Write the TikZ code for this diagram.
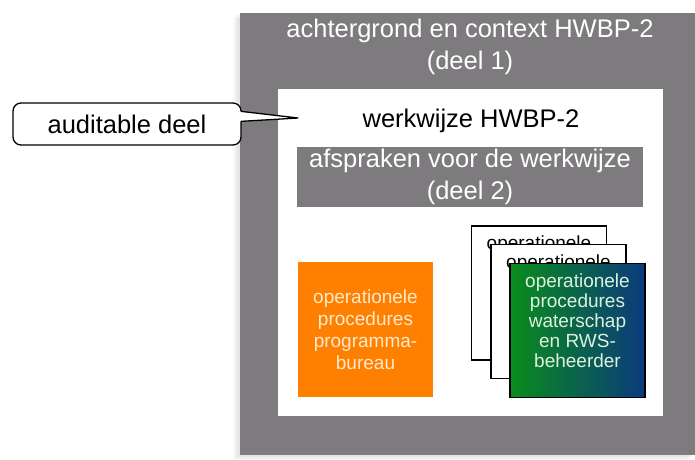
\documentclass[tikz,border=0pt]{standalone}
\usepackage{fontspec}
\setmainfont{Liberation Sans}
\usepackage{tikz}
\usetikzlibrary{positioning, shadows, calc}
\definecolor{hwbpcolor0}{HTML}{7E7B7E}
\definecolor{hwbpcolor1}{HTML}{FF8000}
\definecolor{hwbpcolor2}{HTML}{FFE9CC}
\definecolor{hwbpcolor3}{HTML}{0A8C1C}
\definecolor{hwbpcolor4}{HTML}{0B3A7C}
\definecolor{hwbpcolor5}{HTML}{DDF2DD}
\tikzset{
  text_large/.style={font=\fontsize{25.5}{32}\selectfont, align=center},
  text_small/.style={font=\fontsize{19}{20}\selectfont, align=center},
  soft_shadow/.style={
    drop shadow={shadow xshift=-7pt, shadow yshift=-5pt, opacity=0.05},
    drop shadow={shadow xshift=-5pt, shadow yshift=-3.5pt, opacity=0.07},
    drop shadow={shadow xshift=-3pt, shadow yshift=-2pt, opacity=0.1}},
  box_outer/.style={fill=hwbpcolor0, anchor=north west, inner sep=0pt, soft_shadow},
  box_inner/.style={fill=white, anchor=north west, inner sep=0pt, drop shadow={shadow xshift=-2pt, shadow yshift=-2pt, opacity=0.12}},
  bar_gray/.style={fill=hwbpcolor0, text=white, text_large, minimum width=346pt, minimum height=60pt, inner sep=0pt},
  proc_orange/.style={fill=hwbpcolor1, text=hwbpcolor2, font=\fontsize{19}{22}\selectfont, align=center, minimum width=135pt, minimum height=135pt, inner sep=0pt},
  proc_sheet/.style={draw=black, line width=1.2pt, fill=white, minimum width=135pt, minimum height=134pt, inner sep=0pt},
  proc_front/.style={proc_sheet, left color=hwbpcolor3, right color=hwbpcolor4},
  sheet_text/.style={text_small, yshift=10pt},
  callout_box/.style={draw=black, fill=white, line width=1.3pt, rounded corners=8pt, text_large, minimum width=228pt, minimum height=42pt, inner sep=0pt},
  callout_line/.style={draw=black, line width=1.3pt, line join=round}
}

\begin{document}
\begin{tikzpicture}[x=1pt, y=-1pt]
\useasboundingbox (0,0) rectangle (695,459);
\node[box_outer, minimum width=455pt, minimum height=442pt] (context_box) at (240,13) {};
\node[text_large, text=white] (context_title) at (470,47) {achtergrond en context HWBP-2\\(deel 1)};
\node[box_inner, minimum width=385pt, minimum height=327pt] (method_box) at (278,89) {};
\node[text_large] (method_title) at (471,121) {werkwijze HWBP-2};
\node[bar_gray] (agreement_bar) at (470,177) {afspraken voor de werkwijze\\(deel 2)};
\node[proc_orange] (bureau_box) at (365.5,329.5) {operationele\\procedures\\programma-\\bureau};
% stapel procedures, achterste eerst
\node[proc_sheet] (sheet_1) at (539,293) {};
\node[sheet_text] (sheet_1_text) at (sheet_1.center) {operationele\\procedures\\waterschap\\en RWS-\\beheerder};
\node[proc_sheet] (sheet_2) at (558.5,311.5) {};
\node[sheet_text] (sheet_2_text) at (sheet_2.center) {operationele\\procedures\\waterschap\\en RWS-\\beheerder};
\node[proc_front] (sheet_front) at (577.5,330.5) {};
\node[sheet_text, text=hwbpcolor5] (sheet_front_text) at (sheet_front.center) {operationele\\procedures\\waterschap\\en RWS-\\beheerder};
% callout
\node[callout_box] (audit_callout) at (127,124) {auditable deel};
\coordinate (audit_tip) at (298,118);
\fill[white] ($(audit_callout.north east)+(-2,9)$) -- (audit_tip) -- ($(audit_callout.north east)+(-2,19)$) -- cycle;
\draw[callout_line] ($(audit_callout.north east)+(-0.7,9)$) -- (audit_tip) -- ($(audit_callout.north east)+(-0.7,19)$);
\end{tikzpicture}
\end{document}
